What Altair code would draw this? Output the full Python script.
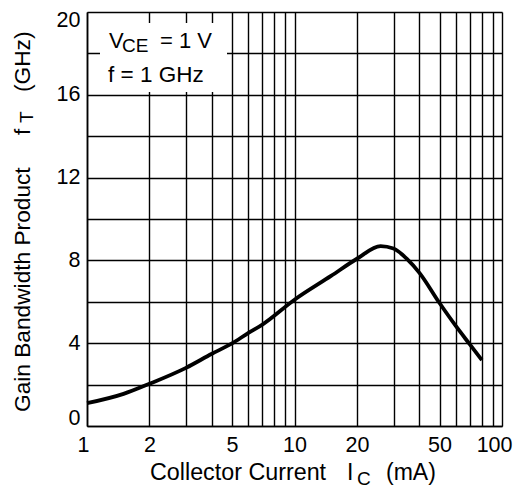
import altair as alt
import pandas as pd

# Data
ic_ma = [1, 1.5, 2, 3, 4, 5, 6, 7, 10, 15, 20, 26, 30, 35, 40, 50, 60, 70, 80]
ft_ghz = [1.1, 1.55, 2.04, 2.81, 3.49, 3.99, 4.5, 4.9, 6.1, 7.25, 8.08, 8.69, 8.57, 8.05, 7.4, 5.94, 4.82, 3.94, 3.18]

x_grid = [1, 2, 3, 4, 5, 6, 7, 8, 9, 10, 20, 30, 40, 50, 60, 70, 80, 90, 100]
x_labels = [1, 2, 5, 10, 20, 50, 100]
y_grid = [0, 2, 4, 6, 8, 10, 12, 14, 16, 18, 20]
y_labels = [0, 4, 8, 12, 16, 20]

FONT = "Liberation Sans"
W, H = 415, 414

df = pd.DataFrame({"ic": ic_ma, "ft": ft_ghz})

xlab_expr = "indexof([" + ",".join(str(v) for v in x_labels) + "], datum.value) >= 0 ? datum.label : ''"
ylab_expr = "indexof([" + ",".join(str(v) for v in y_labels) + "], datum.value) >= 0 ? datum.label : ''"

xscale = alt.Scale(type="log", domain=[1, 100], nice=False)
yscale = alt.Scale(domain=[0, 20], nice=False)

line = alt.Chart(df).mark_line(color="black", strokeWidth=3.8, interpolate="monotone").encode(
    x=alt.X("ic:Q", scale=xscale, title=None,
            axis=alt.Axis(values=x_grid, labelExpr=xlab_expr, format="d", grid=True,
                          gridColor="black", gridWidth=1.4, gridOpacity=1,
                          domainColor="black", domainWidth=1.6, tickSize=0,
                          labelPadding=8, labelFont=FONT, labelFontSize=21.5,
                          labelColor="black", labelFlush=True, labelFlushOffset=10,
                          labelOverlap=False)),
    y=alt.Y("ft:Q", scale=yscale, title=None,
            axis=alt.Axis(values=y_grid, labelExpr=ylab_expr, grid=True,
                          gridColor="black", gridWidth=1.4, gridOpacity=1,
                          domainColor="black", domainWidth=1.6, tickSize=0,
                          labelPadding=7, labelFont=FONT, labelFontSize=21.5,
                          labelColor="black", labelFlush=True, labelFlushOffset=3,
                          labelOverlap=False)),
)

# white annotation box
box = alt.Chart(pd.DataFrame({"k": [0]})).mark_rect(color="white").encode(
    x=alt.value(13), x2=alt.value(140), y=alt.value(11), y2=alt.value(80)
)

def txt(s, x, y, size, angle=0, baseline="alphabetic"):
    kw = dict(align="left", baseline=baseline, font=FONT, fontSize=size, color="black")
    if angle:
        kw["angle"] = angle
    return alt.Chart(pd.DataFrame({"t": [s]})).mark_text(**kw).encode(
        text="t:N", x=alt.value(x), y=alt.value(y)
    )

texts = [
    txt("V", 22, 36, 22),
    txt("CE", 35, 40, 19),
    txt("= 1 V", 73, 36, 22),
    txt("f = 1 GHz", 21, 70, 22.5),
    # x title
    txt("Collector Current", 63, 468, 23.3),
    txt("I", 260, 468, 23),
    txt("C", 270, 473, 19),
    txt("(mA)", 299, 468, 23),
    # y title
    txt("Gain Bandwidth Product", -64, 400, 22.7, angle=270, baseline="middle"),
    txt("f", -64, 123, 22.7, angle=270, baseline="middle"),
    txt("T", -60, 111, 19, angle=270, baseline="middle"),
    txt("(GHz)", -64, 80, 22.7, angle=270, baseline="middle"),
]

chart = alt.layer(box, line, *texts).properties(
    width=W, height=H,
    autosize=alt.AutoSizeParams(type="none"),
    padding={"left": 79, "top": 4, "right": 12, "bottom": 62},
).configure_view(stroke="black", strokeWidth=1.6).configure(background="white")

chart.save("out.html", embed_options={"renderer": "svg", "actions": False})
